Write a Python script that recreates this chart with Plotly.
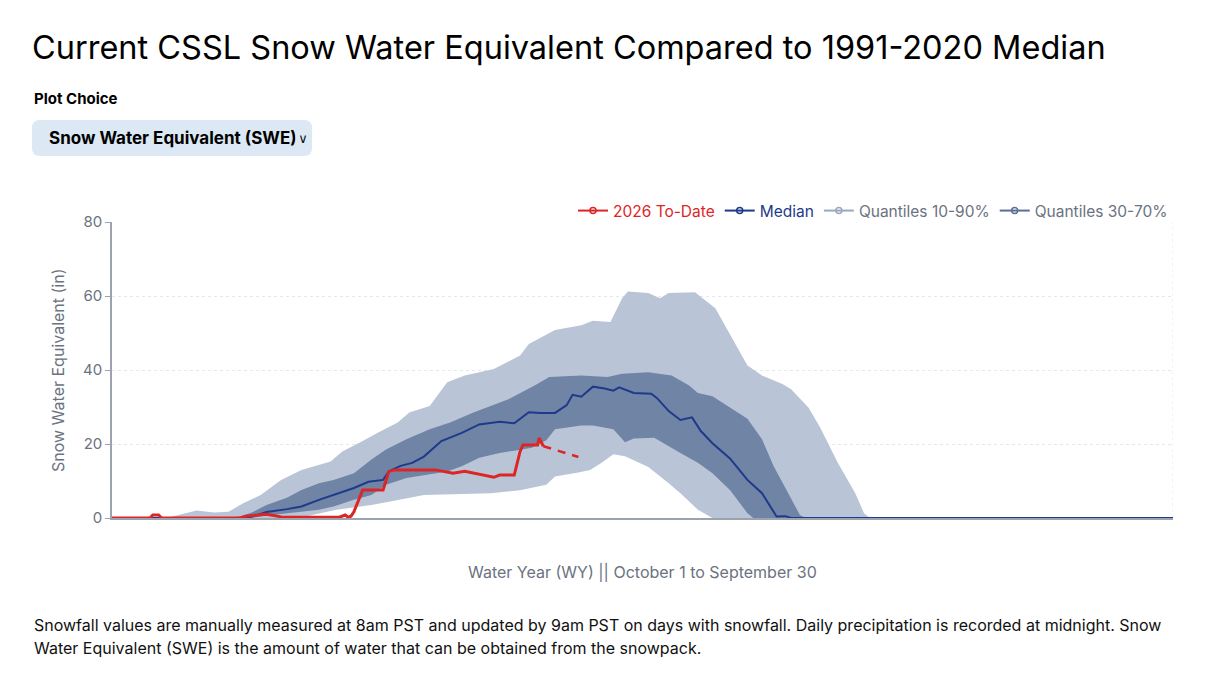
import plotly.graph_objects as go

# 数据: 水文年天数 (10月1日 = 0)
todate_days = [0, 13, 14, 16, 17, 44, 46, 50, 53, 56, 58, 78, 80, 81, 82, 83, 86, 93, 95, 97,
               111, 117, 121, 131, 133, 138, 140, 141, 146, 146.5, 148]
todate_vals = [0, 0, 0.8, 0.8, 0, 0, 0.5, 0.8, 1.0, 0.6, 0.3, 0.2, 0.8, 0.2, 0.5, 1.7, 7.6, 7.6, 12.6, 13.0,
               13.0, 12.1, 12.6, 11.0, 11.6, 11.6, 18.0, 19.7, 19.7, 21.6, 19.4]
gap_days = [148, 160]
gap_vals = [19.4, 16.5]

median_days = [0, 46, 50, 53, 60, 65, 71, 76, 83, 88, 93, 95, 99, 103, 107, 113, 120, 126, 133, 138,
               143, 147, 152, 156, 158, 161, 165, 169, 172, 174, 179, 185, 187, 191, 195, 199, 202,
               206, 212, 218, 223, 228, 231, 233, 364]
median_vals = [0, 0, 0.8, 1.6, 2.4, 3.1, 4.9, 6.2, 8.1, 9.8, 10.3, 12.6, 14.1, 14.9, 16.6, 20.8, 23.0,
               25.3, 26.0, 25.6, 28.6, 28.4, 28.4, 30.5, 33.3, 32.8, 35.5, 35.0, 34.4, 35.3, 33.8, 33.6,
               32.4, 28.9, 26.5, 27.2, 23.5, 20.2, 16.1, 10.3, 6.7, 0.4, 0.5, 0, 0]

q90_days = [0, 18, 20, 23, 29, 35, 40, 45, 51, 58, 65, 75, 79, 86, 91, 98, 102, 109, 115, 121, 131,
            140, 143, 152, 161, 165, 171, 175, 177, 184, 188, 191, 200, 207, 211, 218, 223, 230, 233,
            239, 243, 249, 255, 258, 260, 364]
q90_vals = [0, 0, 0.3, 0.8, 2.0, 1.5, 1.7, 4.0, 6.2, 10.3, 13.0, 15.3, 18.0, 20.8, 23.0, 25.8, 28.5,
            30.3, 36.7, 38.5, 40.3, 43.9, 47.0, 50.8, 52.1, 53.3, 53.0, 59.4, 61.2, 60.8, 59.4, 60.8,
            61.0, 56.7, 51.2, 41.2, 38.5, 36.2, 34.8, 29.8, 24.4, 14.9, 6.7, 1.3, 0, 0]
q10_days = [0, 64, 70, 77, 89, 95, 107, 130, 140, 149, 152, 160, 164, 168, 172, 176, 184, 191, 195,
            201, 206, 364]
q10_vals = [0, 0, 1.0, 2.2, 3.5, 4.4, 6.2, 6.7, 7.5, 9.0, 11.2, 12.3, 13.0, 14.9, 17.2, 16.7, 13.8,
            9.4, 6.7, 2.2, 0, 0]

q70_days = [0, 40, 44, 48, 53, 60, 65, 71, 76, 83, 89, 94, 101, 109, 116, 124, 136, 145, 150, 161,
            170, 175, 184, 192, 198, 201, 206, 211, 218, 223, 227, 232, 236, 238, 364]
q70_vals = [0, 0, 0.5, 1.5, 3.5, 5.5, 7.6, 9.4, 10.3, 12.1, 15.8, 18.5, 21.3, 24.0, 25.8, 28.5, 32.1,
            35.8, 38.1, 38.5, 38.1, 39.0, 39.4, 38.5, 35.8, 33.8, 32.9, 30.3, 26.8, 21.3, 14.0, 6.7,
            0.8, 0, 0]
q30_days = [0, 48, 51, 60, 65, 71, 76, 83, 89, 94, 101, 108, 115, 120, 126, 133, 138, 144, 149, 152,
            157, 161, 165, 172, 176, 179, 186, 195, 201, 206, 212, 218, 220, 364]
q30_vals = [0, 0, 0.5, 1.2, 1.7, 2.2, 3.1, 4.9, 6.2, 9.0, 10.8, 11.7, 12.6, 14.0, 16.3, 17.6, 18.2,
            19.0, 21.0, 24.0, 24.6, 25.0, 25.0, 24.0, 20.5, 21.5, 21.7, 17.6, 14.9, 12.1, 7.6, 1.3,
            0, 0]

y_ticks = [0, 20, 40, 60, 80]

RED = "#dc2626"
BLUE = "#1e3a8a"
LIGHT = "rgb(185,197,214)"
DARK = "rgb(112,132,166)"
GRAY = "#6b7280"
FONT = "Inter, Lato, sans-serif"

# 绘图区像素位置 -> paper 坐标
L, R, T, B = 112, 1173, 222, 518
def px(x):
    return (x - L) / (R - L)
def py(y):
    return (B - y) / (B - T)

fig = go.Figure()

# 分位数带
fig.add_trace(go.Scatter(x=q90_days + q10_days[::-1], y=q90_vals + q10_vals[::-1], fill="toself",
                         fillcolor=LIGHT, line=dict(width=0), mode="lines", showlegend=False,
                         hoverinfo="skip"))
fig.add_trace(go.Scatter(x=q70_days + q30_days[::-1], y=q70_vals + q30_vals[::-1], fill="toself",
                         fillcolor=DARK, line=dict(width=0), mode="lines", showlegend=False,
                         hoverinfo="skip"))
fig.add_trace(go.Scatter(x=median_days, y=median_vals, mode="lines", line=dict(color=BLUE, width=2),
                         showlegend=False))
fig.add_trace(go.Scatter(x=todate_days, y=todate_vals, mode="lines", line=dict(color=RED, width=3),
                         showlegend=False))
fig.add_trace(go.Scatter(x=gap_days, y=gap_vals, mode="lines",
                         line=dict(color=RED, width=2.5, dash="8px,7px"), showlegend=False))

# 图例
legend_items = [("2026 To-Date", RED, RED), ("Median", BLUE, BLUE),
                ("Quantiles 10-90%", "#9aa8c2", GRAY), ("Quantiles 30-70%", "#5a6e96", GRAY)]
for name, sym, txt in legend_items:
    fig.add_trace(go.Scatter(x=[None], y=[None], mode="lines+markers",
                             name="<span style='color:%s'>%s</span>" % (txt, name),
                             line=dict(color=sym, width=2),
                             marker=dict(symbol="circle-open", size=6, color=sym, line=dict(width=1.5))))

# 右侧虚线网格
fig.add_shape(type="line", xref="x", yref="y", x0=364, x1=364, y0=0, y1=80, layer="below",
              line=dict(color="#e5e7eb", width=1, dash="3px,3px"))

# 下拉框
x0, x1, y0, y1, r = 32, 312, 120, 156, 8
path = ("M %f,%f L %f,%f Q %f,%f %f,%f L %f,%f Q %f,%f %f,%f L %f,%f Q %f,%f %f,%f L %f,%f Q %f,%f %f,%f Z" % (
    px(x0 + r), py(y0), px(x1 - r), py(y0), px(x1), py(y0), px(x1), py(y0 + r),
    px(x1), py(y1 - r), px(x1), py(y1), px(x1 - r), py(y1),
    px(x0 + r), py(y1), px(x0), py(y1), px(x0), py(y1 - r),
    px(x0), py(y0 + r), px(x0), py(y0), px(x0 + r), py(y0)))
fig.add_shape(type="path", xref="paper", yref="paper", path=path, fillcolor="#dce8f3",
              line=dict(width=0), layer="below")

annotations = [
    dict(text="Plot Choice", x=px(32), y=py(98), xanchor="left", yanchor="middle",
         font=dict(size=15, color="#000", family=FONT, weight="bold")),
    dict(text="Snow Water Equivalent (SWE)", x=px(47), y=py(138), xanchor="left", yanchor="middle",
         font=dict(size=17, color="#000", family=FONT, weight="bold")),
    dict(text="∨", x=px(303), y=py(138), xanchor="center", yanchor="middle", bgcolor="#dce8f3",
         width=12, height=22, font=dict(size=13, color="#111", family="DejaVu Sans")),
    dict(text="Snow Water Equivalent (in)", x=px(58), y=0.5, xanchor="center", yanchor="middle",
         textangle=-90, font=dict(size=16, color=GRAY, family=FONT)),
    dict(text="Water Year (WY) || October 1 to September 30", x=0.5, y=py(572), xanchor="center",
         yanchor="middle", font=dict(size=16, color=GRAY, family=FONT)),
    dict(text="Snowfall values are manually measured at 8am PST and updated by 9am PST on days with "
              "snowfall. Daily precipitation is recorded at midnight. Snow",
         x=px(32), y=py(625), xanchor="left", yanchor="middle",
         font=dict(size=16, color="#111", family=FONT)),
    dict(text="Water Equivalent (SWE) is the amount of water that can be obtained from the snowpack.",
         x=px(32), y=py(648), xanchor="left", yanchor="middle",
         font=dict(size=16, color="#111", family=FONT)),
]
for a in annotations:
    a.update(xref="paper", yref="paper", showarrow=False)

fig.update_layout(
    width=1216, height=692, autosize=False,
    margin=dict(l=L, r=1216 - R, t=T, b=692 - B),
    paper_bgcolor="white", plot_bgcolor="white",
    font=dict(family=FONT, color=GRAY, size=15),
    title=dict(text="Current CSSL Snow Water Equivalent Compared to 1991-2020 Median",
               x=32 / 1216, xref="container", xanchor="left",
               y=1 - 48 / 692, yref="container", yanchor="middle",
               font=dict(size=32.5, color="#000", family=FONT)),
    legend=dict(orientation="h", x=1, xanchor="right", y=py(211), yanchor="middle",
                font=dict(size=15.5, family=FONT), itemwidth=30, bgcolor="rgba(0,0,0,0)"),
    annotations=annotations,
    showlegend=True,
)
fig.update_xaxes(range=[0, 364], showticklabels=False, ticks="", showgrid=False, zeroline=False,
                 showline=True, linecolor="#9ca3af", linewidth=2, layer="below traces")
fig.update_yaxes(range=[0, 80], tickvals=y_ticks, ticks="outside", ticklen=5, tickcolor="#9ca3af",
                 tickfont=dict(size=15, color=GRAY), showgrid=True, gridcolor="#e5e7eb",
                 griddash="3px,3px", zeroline=False, showline=True, linecolor="#9ca3af",
                 linewidth=1.5, layer="below traces")

fig.write_html("out.html", config={"displayModeBar": False},
               post_script="document.body.style.margin='0';")
